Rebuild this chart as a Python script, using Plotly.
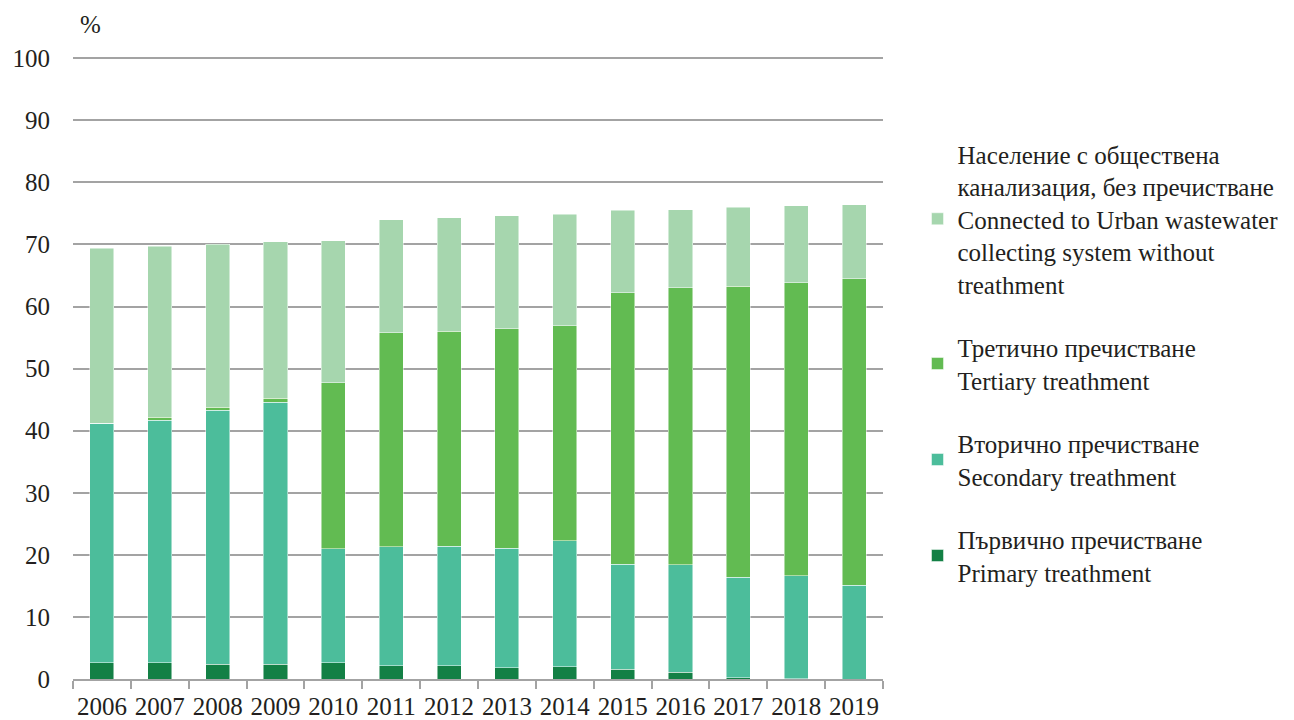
import plotly.graph_objects as go

years = ["2006", "2007", "2008", "2009", "2010", "2011", "2012", "2013",
         "2014", "2015", "2016", "2017", "2018", "2019"]

primary = [2.6, 2.6, 2.4, 2.4, 2.6, 2.1, 2.1, 1.8, 2.0, 1.6, 1.1, 0.2, 0.05, 0.0]
secondary = [38.6, 39.1, 40.9, 42.2, 18.4, 19.2, 19.3, 19.3, 20.3, 16.9, 17.3, 16.2, 16.55, 15.1]
tertiary = [0.0, 0.5, 0.5, 0.6, 26.7, 34.5, 34.6, 35.3, 34.6, 43.7, 44.6, 46.9, 47.2, 49.4]
no_treatment = [28.2, 27.5, 26.2, 25.2, 22.9, 18.2, 18.3, 18.2, 18.0, 13.3, 12.6, 12.7, 12.4, 11.9]

names = [
    "Първично пречистване<br>Primary treathment",
    "Вторично пречистване<br>Secondary treathment",
    "Третично пречистване<br>Tertiary treathment",
    "Население с обществена<br>канализация, без пречистване<br>Connected to Urban wastewater<br>collecting system without<br>treathment",
]
colors = ["#138045", "#4cbd9b", "#62bb52", "#a6d6ae"]
ranks = [4, 3, 2, 1]
series = [primary, secondary, tertiary, no_treatment]

FONT = "Liberation Serif, Times New Roman, serif"
TXT = "#231f20"
GRID = "#a3a3a3"

fig = go.Figure()
for i, (vals, nm, col) in enumerate(zip(series, names, colors)):
    fig.add_trace(go.Bar(
        x=years, y=vals, name=nm, legendgroup=f"g{i}", legendrank=ranks[i],
        marker=dict(color=col, line=dict(color="rgba(255,255,255,0.6)", width=0.8)),
    ))

fig.update_layout(
    barmode="stack",
    bargap=0.585,
    width=1294, height=720,
    margin=dict(l=65, r=419, t=49, b=49, autoexpand=False),
    plot_bgcolor="white", paper_bgcolor="white",
    font=dict(family=FONT, size=25, color=TXT),
    showlegend=True,
    legend=dict(
        traceorder="grouped",
        tracegroupgap=28,
        x=1.0426, xanchor="left",
        y=0.508, yanchor="middle",
        font=dict(family=FONT, size=25, color=TXT),
        itemwidth=30,
        bgcolor="rgba(0,0,0,0)",
    ),
    xaxis=dict(
        type="category",
        showline=True, linecolor=GRID, linewidth=1.5,
        ticks="outside", tickson="boundaries", ticklen=8, tickcolor=GRID, tickwidth=1.5,
        tickangle=0, ticklabelstandoff=4,
        tickfont=dict(family=FONT, size=25, color=TXT),
        showgrid=False, automargin=False,
    ),
    yaxis=dict(
        range=[0, 100.2],
        tickvals=[0, 10, 20, 30, 40, 50, 60, 70, 80, 90, 100],
        showgrid=True, gridcolor=GRID, gridwidth=1.5,
        zeroline=False, showline=False, ticks="",
        ticklabelstandoff=22,
        tickfont=dict(family=FONT, size=25, color=TXT),
        automargin=False,
    ),
    annotations=[dict(
        text="%", xref="paper", yref="paper", x=0.006, y=1.052,
        xanchor="left", yanchor="middle", showarrow=False,
        font=dict(family=FONT, size=25, color=TXT),
    )],
)

fig.write_html("out.html")
